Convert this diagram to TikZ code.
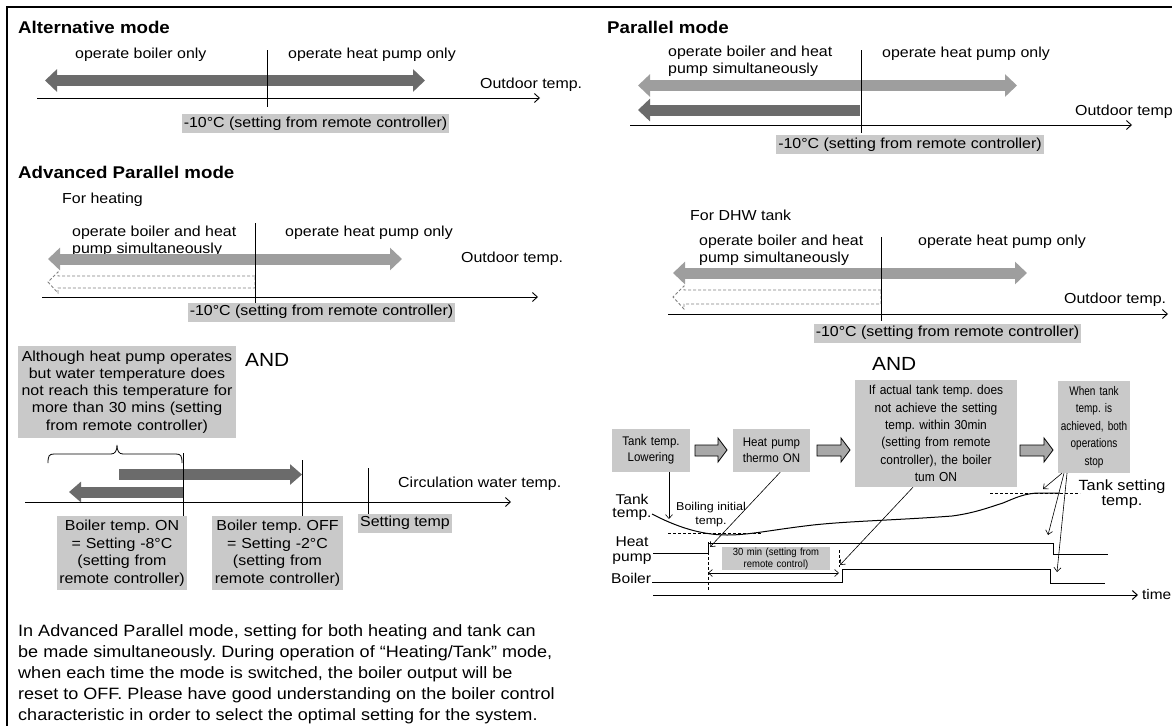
\documentclass[tikz,border=0pt]{standalone}
\usepackage{fontspec}
\setmainfont{Liberation Sans}[FakeStretch=1.1]
\newfontfamily\tfont{Liberation Sans}[FakeStretch=0.92]
\newfontfamily\wfont{Liberation Sans}[FakeStretch=0.8]
\usetikzlibrary{arrows.meta}
\frenchspacing
\definecolor{darkarr}{gray}{0.42}
\definecolor{lightarr}{gray}{0.62}
\definecolor{boxgrey}{gray}{0.79}
\definecolor{blockfill}{gray}{0.66}
\definecolor{dashgrey}{gray}{0.5}
\newcommand\fsz[2]{\fontsize{#1}{#2}\selectfont}
\tikzset{
  BigTri/.tip={Triangle[length=12pt,width=22pt]},
  MidTri/.tip={Triangle[length=12pt,width=20pt]},
  Barb/.tip={Straight Barb[length=5pt,width=9pt]},
  SmBarb/.tip={Straight Barb[length=4pt,width=7pt]}
}
\begin{document}
\begin{tikzpicture}[x=1pt,y=-1pt,
  every node/.style={inner sep=0pt},
  title/.style={font=\fsz{17}{20}\bfseries, anchor=base west},
  lbl/.style={font=\fsz{14.5}{17}, anchor=base west},
  lbltwo/.style={font=\fsz{14.5}{17}, anchor=north west, align=left},
  tag/.style={fill=boxgrey, inner xsep=2pt, minimum height=19pt, font=\fsz{14.5}{17}},
  gbox/.style={fill=boxgrey, align=center},
  axisline/.style={line width=0.9pt, -Barb},
  tickline/.style={line width=0.9pt},
  darkbar/.style={draw=darkarr, line width=11pt},
  lightbar/.style={draw=lightarr, line width=11pt},
  hollowdash/.style={draw=dashgrey, dash pattern=on 3pt off 2pt, line width=0.9pt},
  blockarr/.style={draw=black, fill=blockfill, line width=0.8pt},
  sig/.style={line width=1pt},
  callout/.style={line width=0.6pt, -SmBarb},
  dashsig/.style={line width=0.8pt, dash pattern=on 3pt off 2pt}
]
\useasboundingbox (0,0) rectangle (1172,726);
\draw[line width=1.6pt] (1172,7) -- (7,7) -- (7,726);

% ---------------- Alternative mode
\node[title] (altT) at (18,33) {Alternative mode};
\node[lbl] (altB) at (75,58) {operate boiler only};
\node[lbl] (altH) at (288,58) {operate heat pump only};
\draw[darkbar, BigTri-BigTri] (45,80.5) -- (425,80.5);
\draw[axisline] (37,98) -- (540,98);
\node[lbl] (altO) at (480,88) {Outdoor temp.};
\draw[tickline] (267,50) -- (267,107);
\node[tag] (altTag) at (315.5,123.5) {-10°C (setting from remote controller)};

% ---------------- Advanced Parallel mode
\node[title] (advT) at (18,178) {Advanced Parallel mode};
\node[lbl] (advF) at (62,203) {For heating};
\node[lbltwo] (advB) at (72,225.4) {operate boiler and heat\\pump simultaneously};
\node[lbl] (advH) at (285,236) {operate heat pump only};
\draw[lightbar, BigTri-BigTri] (48,259) -- (402,259);
\draw[hollowdash] (255,276) -- (58,276) -- (58,272) -- (48,282) -- (58,293) -- (58,288) -- (255,288) -- cycle;
\draw[axisline] (42,297) -- (538,297);
\node[lbl] (advO) at (461,262) {Outdoor temp.};
\draw[tickline] (255,223) -- (255,303);
\node[tag] (advTag) at (321.5,312) {-10°C (setting from remote controller)};

% ---------------- AND condition (left)
\node[gbox, text width=214pt, minimum width=218pt, minimum height=92pt, font=\fsz{14.5}{17.2}] (cond) at (127,392)
  {Although heat pump operates\\but water temperature does\\not reach this temperature for\\more than 30 mins (setting\\from remote controller)};
\node[font=\fsz{19}{22}, anchor=base west] (andL) at (245,366) {AND};
\draw[line width=0.8pt] (48,463) .. controls (48,456) and (49,454) .. (54,454) -- (111,454)
  .. controls (115,454) and (117,451) .. (117,445) .. controls (117,451) and (119,454) .. (123,454)
  -- (176,454) .. controls (181,454) and (182,456) .. (182,463);
\draw[darkbar, -MidTri] (119,474.5) -- (302,474.5);
\draw[darkbar, -MidTri] (183,492) -- (69,492);
\draw[axisline] (25,502) -- (511,502);
\draw[tickline] (183,453) -- (183,516);
\draw[tickline] (302,460) -- (302,516);
\draw[tickline] (368,468) -- (368,516);
\node[lbl] (circ) at (398,487) {Circulation water temp.};
\node[gbox, minimum width=130pt, minimum height=74pt, text width=128pt, font=\fsz{14.5}{17.5}] (bOn) at (122,553)
  {Boiler temp. ON\\= Setting -8°C\\(setting from\\remote controller)};
\node[gbox, minimum width=131pt, minimum height=74pt, text width=129pt, font=\fsz{14.5}{17.5}] (bOff) at (277.5,553)
  {Boiler temp. OFF\\= Setting -2°C\\(setting from\\remote controller)};
\node[tag] (setT) at (405,523) {Setting temp};

\node[font=\fsz{16.4}{21}, anchor=north west, align=left] (para) at (18,624)
  {In Advanced Parallel mode, setting for both heating and tank can\\
   be made simultaneously. During operation of “Heating/Tank” mode,\\
   when each time the mode is switched, the boiler output will be\\
   reset to OFF. Please have good understanding on the boiler control\\
   characteristic in order to select the optimal setting for the system.};

% ---------------- Parallel mode
\node[title] (parT) at (607,33) {Parallel mode};
\node[lbltwo] (parB) at (668,46) {operate boiler and heat\\pump simultaneously};
\node[lbl] (parH) at (882,57) {operate heat pump only};
\draw[lightbar, BigTri-BigTri] (638,85.5) -- (1017,85.5);
\draw[darkbar, -BigTri] (860,110) -- (638,110);
\draw[axisline] (630,125) -- (1132,125);
\node[lbl] (parO) at (1075,115) {Outdoor temp};
\draw[tickline] (861,50) -- (861,133);
\node[tag] (parTag) at (910,144.5) {-10°C (setting from remote controller)};

% ---------------- DHW tank
\node[lbl] (dhwF) at (690,220) {For DHW tank};
\node[lbltwo] (dhwB) at (699,234.4) {operate boiler and heat\\pump simultaneously};
\node[lbl] (dhwH) at (918,245) {operate heat pump only};
\draw[lightbar, BigTri-BigTri] (673,273) -- (1027,273);
\draw[hollowdash] (881,290) -- (684,290) -- (684,286) -- (673,297) -- (684,309) -- (684,304) -- (881,304) -- cycle;
\draw[axisline] (668,314) -- (1168,314);
\node[lbl] (dhwO) at (1064,303) {Outdoor temp.};
\draw[tickline] (881,237) -- (881,321);
\node[tag] (dhwTag) at (947.5,333) {-10°C (setting from remote controller)};
\node[font=\fsz{19}{22}, anchor=base west] (andR) at (872,370) {AND};

% ---------------- Timing diagram
\node[gbox, minimum width=78pt, minimum height=43pt, text width=76pt, font=\tfont\fsz{12.5}{16}] (tA) at (651,450.5) {Tank temp.\\Lowering};
\node[gbox, minimum width=77pt, minimum height=43pt, text width=75pt, font=\tfont\fsz{12.5}{16}] (tB) at (771.5,450.5) {Heat pump\\thermo ON};
\node[gbox, minimum width=162pt, minimum height=107pt, text width=160pt, font=\tfont\fsz{13}{17.3}] (tC) at (936,433.5)
  {If actual tank temp. does\\not achieve the setting\\temp. within 30min\\(setting from remote\\controller), the boiler\\tum ON};
\node[gbox, minimum width=72pt, minimum height=92pt, text width=70pt, font=\wfont\fsz{12.5}{17.5}] (tD) at (1094,427)
  {When tank\\temp. is\\achieved, both\\operations\\stop};

\draw[blockarr] (695,445) -- (718,445) -- (718,438) -- (727,450) -- (718,462) -- (718,456) -- (695,456) -- cycle;
\draw[blockarr] (817,445) -- (841,445) -- (841,438) -- (850,450) -- (841,462) -- (841,456) -- (817,456) -- cycle;
\draw[blockarr] (1020,445) -- (1044,445) -- (1044,438) -- (1053,450) -- (1044,462) -- (1044,456) -- (1020,456) -- cycle;

\node[font=\fsz{14.8}{15}, align=center, anchor=north] (tset) at (1122,480) {Tank setting\\temp.};
\node[font=\fsz{14.2}{13.5}, align=center, anchor=north] (tkT) at (632,494) {Tank\\temp.};
\node[font=\fsz{11.4}{14}, align=center, anchor=north] (boil) at (711,501.7) {Boiling initial\\temp.};
\node[font=\fsz{14.2}{15}, align=center, anchor=north] (hpL) at (632,537) {Heat\\pump};
\node[font=\fsz{14.2}{17}, anchor=base west] (boL) at (611,583) {Boiler};
\node[font=\fsz{14}{17}, anchor=base west] (timeL) at (1142,599) {time};

% tank temperature curve
\draw[sig] (652,514) .. controls (675,526) and (700,535) .. (727,535)
  .. controls (750,535) and (770,530) .. (813,525)
  .. controls (850,521) and (900,520) .. (952,516)
  .. controls (975,513) and (990,507) .. (1003,503)
  .. controls (1015,498) and (1025,493) .. (1040,493) -- (1060,493);
\draw[dashsig] (668,533) -- (762,533);
\draw[dashsig] (990,493) -- (1080,493);

% heat pump and boiler signals
\draw[sig] (653,553) -- (708,553) -- (708,543) -- (1053,543) -- (1053,554) -- (1108,554);
\draw[sig] (652,582) -- (842,582) -- (842,569) -- (1050,569) -- (1050,583) -- (1105,583);
\draw[line width=1pt, -Barb] (653,595) -- (1138,595);
\draw[dashsig] (708,542) -- (708,590);
\draw[dashsig] (839,550) -- (839,567);
\draw[line width=0.6pt, SmBarb-SmBarb] (708,573) -- (839,573);
\node[gbox, minimum width=108pt, minimum height=23pt, text width=106pt, font=\tfont\fsz{10.3}{12}] (t30) at (776,558.5)
  {30 min (setting from\\remote control)};

% callouts
\coordinate (cA) at (669,519);
\coordinate (cB) at (710,547);
\coordinate (cC) at (840,565);
\coordinate (cD1) at (1043,489);
\coordinate (cD2) at (1048,535);
\coordinate (cD3) at (1057,572);
\draw[callout] (cA |- tA.south) -- (cA);
\draw[callout] ([xshift=-30pt]tB.south east) -- (cB);
\draw[callout] ([xshift=-23pt]tC.south) -- (cC);
\draw[callout] ([xshift=-32pt]tD.south) -- (cD1);
\draw[callout] ([xshift=-30pt]tD.south) -- (cD2);
\draw[callout] ([xshift=-27pt]tD.south) -- (cD3);
\end{tikzpicture}
\end{document}
